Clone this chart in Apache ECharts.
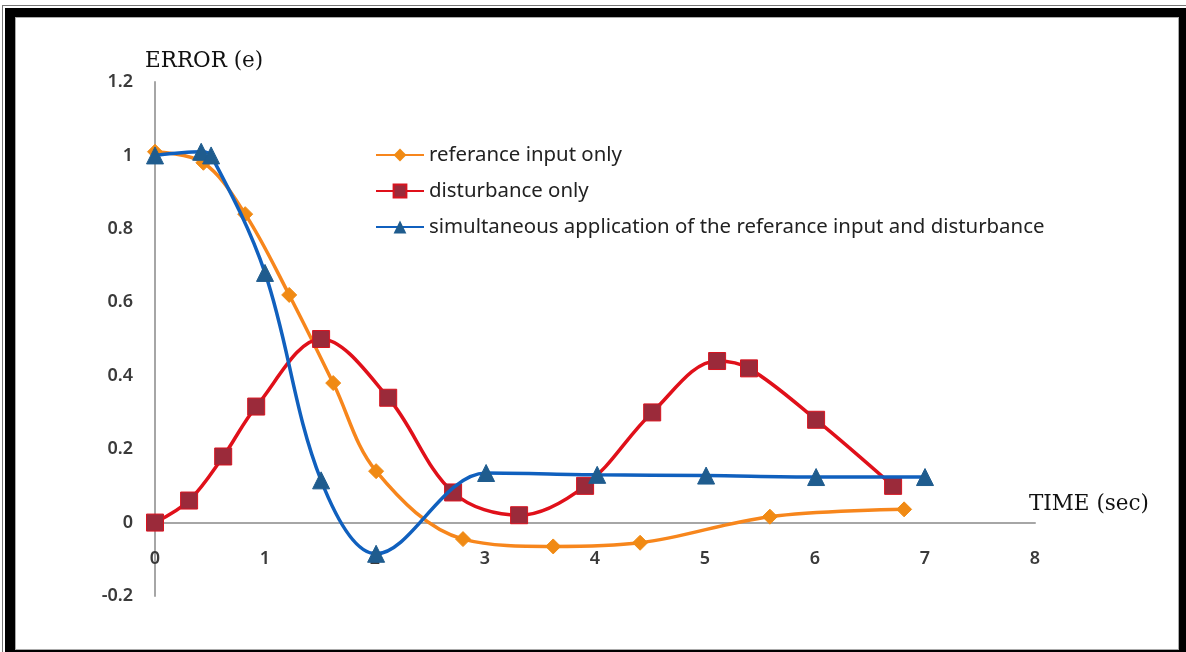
<!DOCTYPE html>
<html>
<head>
<meta charset="utf-8">
<script src="https://cdn.jsdelivr.net/npm/echarts@6/dist/echarts.min.js"></script>
<style>
  html, body { margin: 0; padding: 0; background: #fff; width: 1186px; height: 652px; overflow: hidden; }
  #frame1 { position: absolute; left: 2px; top: 5px; width: 1190px; height: 660px; box-sizing: border-box; border-top: 1px solid #777; border-left: 1px solid #777; }
  #frame2 { position: absolute; left: 5px; top: 8px; width: 1181px; height: 644px; box-sizing: border-box; border-style: solid; border-color: #000; border-width: 9px 7px 2px 10px; }
  #frame3 { position: absolute; left: 15px; top: 17px; width: 1164px; height: 633px; box-sizing: border-box; border: 1px solid #aaa; }
  #chart { position: absolute; left: 0; top: 0; width: 1186px; height: 652px; }
</style>
</head>
<body>
<div id="frame1"></div>
<div id="frame2"></div>
<div id="frame3"></div>
<div id="chart"></div>
<script>
// Data
const seriesNames = [
  'referance input only',
  'disturbance only',
  'simultaneous application of the referance input and disturbance'
];
const referenceX = [0, 0.44, 0.82, 1.22, 1.62, 2.01, 2.80, 3.62, 4.41, 5.59, 6.81];
const referenceY = [1.01, 0.98, 0.84, 0.62, 0.38, 0.14, -0.045, -0.065, -0.055, 0.016, 0.036];
const disturbanceX = [0, 0.31, 0.62, 0.92, 1.51, 2.12, 2.71, 3.31, 3.91, 4.52, 5.11, 5.40, 6.01, 6.71];
const disturbanceY = [0, 0.06, 0.18, 0.316, 0.50, 0.34, 0.082, 0.02, 0.10, 0.30, 0.44, 0.42, 0.28, 0.10];
const combinedX = [0, 0.42, 0.51, 1.00, 1.51, 2.01, 3.01, 4.02, 5.01, 6.01, 7.00];
const combinedY = [1.0, 1.01, 1.0, 0.68, 0.115, -0.085, 0.135, 0.13, 0.128, 0.124, 0.124];

const xTicks = { min: 0, max: 8, interval: 1 };
const yTicks = { min: -0.2, max: 1.2, interval: 0.2 };

function pairs(xs, ys) { return xs.map((x, i) => [x, ys[i]]); }

const chart = echarts.init(document.getElementById('chart'), null, { renderer: 'canvas' });
const labelFont = { color: '#3a3a3a', fontSize: 18, fontWeight: 600, fontFamily: 'Noto Sans' };
const nameFont = { fontFamily: 'DejaVu Serif', fontSize: 21.5, color: '#111' };

chart.setOption({
  backgroundColor: 'transparent',
  animation: false,
  grid: { left: 155, right: 151, top: 82, bottom: 56, containLabel: false },
  legend: {
    orient: 'vertical',
    left: 370,
    top: 139,
    itemWidth: 48,
    itemHeight: 16,
    itemGap: 14,
    textStyle: { color: '#222', fontSize: 20.4, fontFamily: 'Noto Sans', lineHeight: 22 },
    data: seriesNames
  },
  xAxis: {
    type: 'value',
    min: xTicks.min, max: xTicks.max, interval: xTicks.interval,
    name: 'TIME (sec)',
    nameLocation: 'end',
    nameGap: -6,
    nameTextStyle: Object.assign({ align: 'left', verticalAlign: 'bottom', padding: [0, 0, 7, 0] }, nameFont),
    axisLine: { onZero: true, lineStyle: { color: '#a6a6a6', width: 2 } },
    axisTick: { show: false },
    splitLine: { show: false },
    axisLabel: Object.assign({ margin: -46 }, labelFont)
  },
  yAxis: {
    type: 'value',
    min: yTicks.min, max: yTicks.max, interval: yTicks.interval,
    name: 'ERROR (e)',
    nameLocation: 'end',
    nameGap: 10,
    nameTextStyle: Object.assign({ align: 'left', padding: [0, 0, 0, -10] }, nameFont),
    axisLine: { show: true, lineStyle: { color: '#a6a6a6', width: 2 } },
    axisTick: { show: false },
    splitLine: { show: false },
    axisLabel: Object.assign({ margin: 22 }, labelFont)
  },
  series: [
    {
      name: seriesNames[0], type: 'line', smooth: 0.35,
      data: pairs(referenceX, referenceY),
      symbol: 'diamond', symbolSize: 15,
      lineStyle: { color: '#F7861C', width: 3.5 },
      itemStyle: { color: '#F08A14', borderColor: '#F08A14' },
      z: 2
    },
    {
      name: seriesNames[1], type: 'line', smooth: 0.35,
      data: pairs(disturbanceX, disturbanceY),
      symbol: 'rect', symbolSize: 17,
      lineStyle: { color: '#E0101A', width: 3.5 },
      itemStyle: { color: '#9B2A3A', borderColor: '#D81420', borderWidth: 1 },
      z: 3
    },
    {
      name: seriesNames[2], type: 'line', smooth: 0.35,
      data: pairs(combinedX, combinedY),
      symbol: 'triangle', symbolSize: 17,
      lineStyle: { color: '#1060BE', width: 3.5 },
      itemStyle: { color: '#1F5C8E', borderColor: '#1F5C8E' },
      z: 4
    }
  ]
});
</script>
</body>
</html>
